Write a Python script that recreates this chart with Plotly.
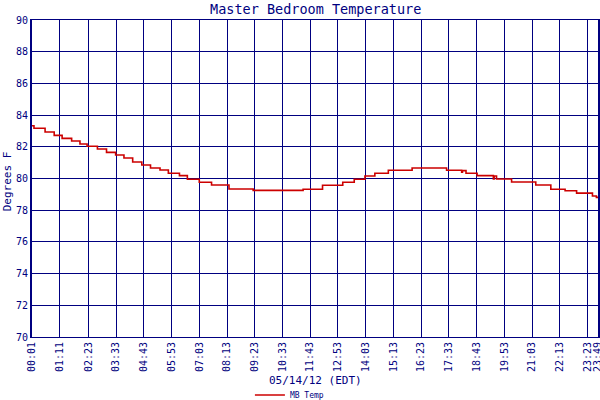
import plotly.graph_objects as go

DAY = "2012-05-14 "

# step changes in the MB temperature reading (time, degrees F)
times = ["00:01", "00:06", "00:34", "00:57", "01:17", "01:41", "02:02", "02:20",
         "02:46", "03:09", "03:32", "03:53", "04:15", "04:38", "05:00", "05:24",
         "05:45", "06:13", "06:33", "07:03", "07:34", "08:18", "09:19", "11:25",
         "12:14", "13:05", "13:34", "14:01", "14:26", "15:00", "16:00", "17:27",
         "18:05", "18:07", "18:16", "18:44", "19:25", "19:27", "19:33", "20:11",
         "21:12", "21:50", "22:26", "22:55", "23:35", "23:45", "23:49"]
temps = [83.33, 83.17, 82.93, 82.72, 82.53, 82.37, 82.18, 82.03,
         81.86, 81.65, 81.48, 81.29, 81.04, 80.85, 80.66, 80.54,
         80.33, 80.18, 79.95, 79.76, 79.59, 79.34, 79.25, 79.32,
         79.57, 79.76, 79.95, 80.16, 80.33, 80.52, 80.66, 80.52,
         80.40, 80.50, 80.33, 80.18, 79.97, 80.16, 79.97, 79.78,
         79.59, 79.32, 79.23, 79.08, 78.90, 78.81, 78.81]

tick_labels = ["00:01", "01:11", "02:23", "03:33", "04:43", "05:53", "07:03",
               "08:13", "09:23", "10:33", "11:43", "12:53", "14:03", "15:13",
               "16:23", "17:33", "18:43", "19:53", "21:03", "22:13", "23:23",
               "23:49"]
y_ticks = [70, 72, 74, 76, 78, 80, 82, 84, 86, 88, 90]

NAVY = "#000080"
FONT = "DejaVu Sans Mono"

fig = go.Figure()
fig.add_trace(go.Scatter(
    x=[DAY + t for t in times],
    y=temps,
    mode="lines",
    line=dict(color="#cc0000", width=1.6, shape="hv"),
    name="MB Temp",
))

fig.update_layout(
    width=600, height=400,
    margin=dict(l=32, r=2, t=20, b=63, autoexpand=False),
    paper_bgcolor="white",
    plot_bgcolor="white",
    font=dict(family=FONT, color=NAVY),
    showlegend=True,
    legend=dict(orientation="h", x=0.385, y=-0.183, xanchor="left", yanchor="middle",
                font=dict(family=FONT, size=8, color=NAVY), itemwidth=30,
                bgcolor="rgba(0,0,0,0)"),
)

fig.update_xaxes(
    type="date",
    range=[DAY + "00:01", DAY + "23:49"],
    tickvals=[DAY + t for t in tick_labels],
    ticktext=tick_labels,
    tickangle=-90,
    ticklabeloverflow="allow",
    tickfont=dict(family=FONT, size=10, color=NAVY),
    showgrid=True, gridcolor=NAVY, gridwidth=1,
    showline=True, linecolor=NAVY, linewidth=1, mirror=True,
    ticks="", zeroline=False, automargin=False,
)
fig.update_yaxes(
    range=[70, 90],
    tickvals=y_ticks,
    tickfont=dict(family=FONT, size=10, color=NAVY),
    showgrid=True, gridcolor=NAVY, gridwidth=1,
    showline=True, linecolor=NAVY, linewidth=2, mirror=True,
    ticks="", zeroline=False, automargin=False,
)

fig.add_annotation(text="Master Bedroom Temperature", xref="paper", yref="paper",
                   x=0.5, y=1.036, showarrow=False, yanchor="middle",
                   font=dict(family=FONT, size=13.5, color=NAVY))
fig.add_annotation(text="05/14/12 (EDT)", xref="paper", yref="paper",
                   x=0.5, y=-0.136, showarrow=False, yanchor="middle",
                   font=dict(family=FONT, size=11, color=NAVY))
fig.add_annotation(text="Degrees F", xref="paper", yref="paper",
                   x=-0.043, y=0.49, showarrow=False, textangle=-90,
                   xanchor="center", yanchor="middle",
                   font=dict(family=FONT, size=11, color=NAVY))

# page has a default 8px body margin; drop it so the chart sits at 0,0
fig.write_html("out.html", config={"displayModeBar": False},
               post_script="document.body.style.margin='0';")
